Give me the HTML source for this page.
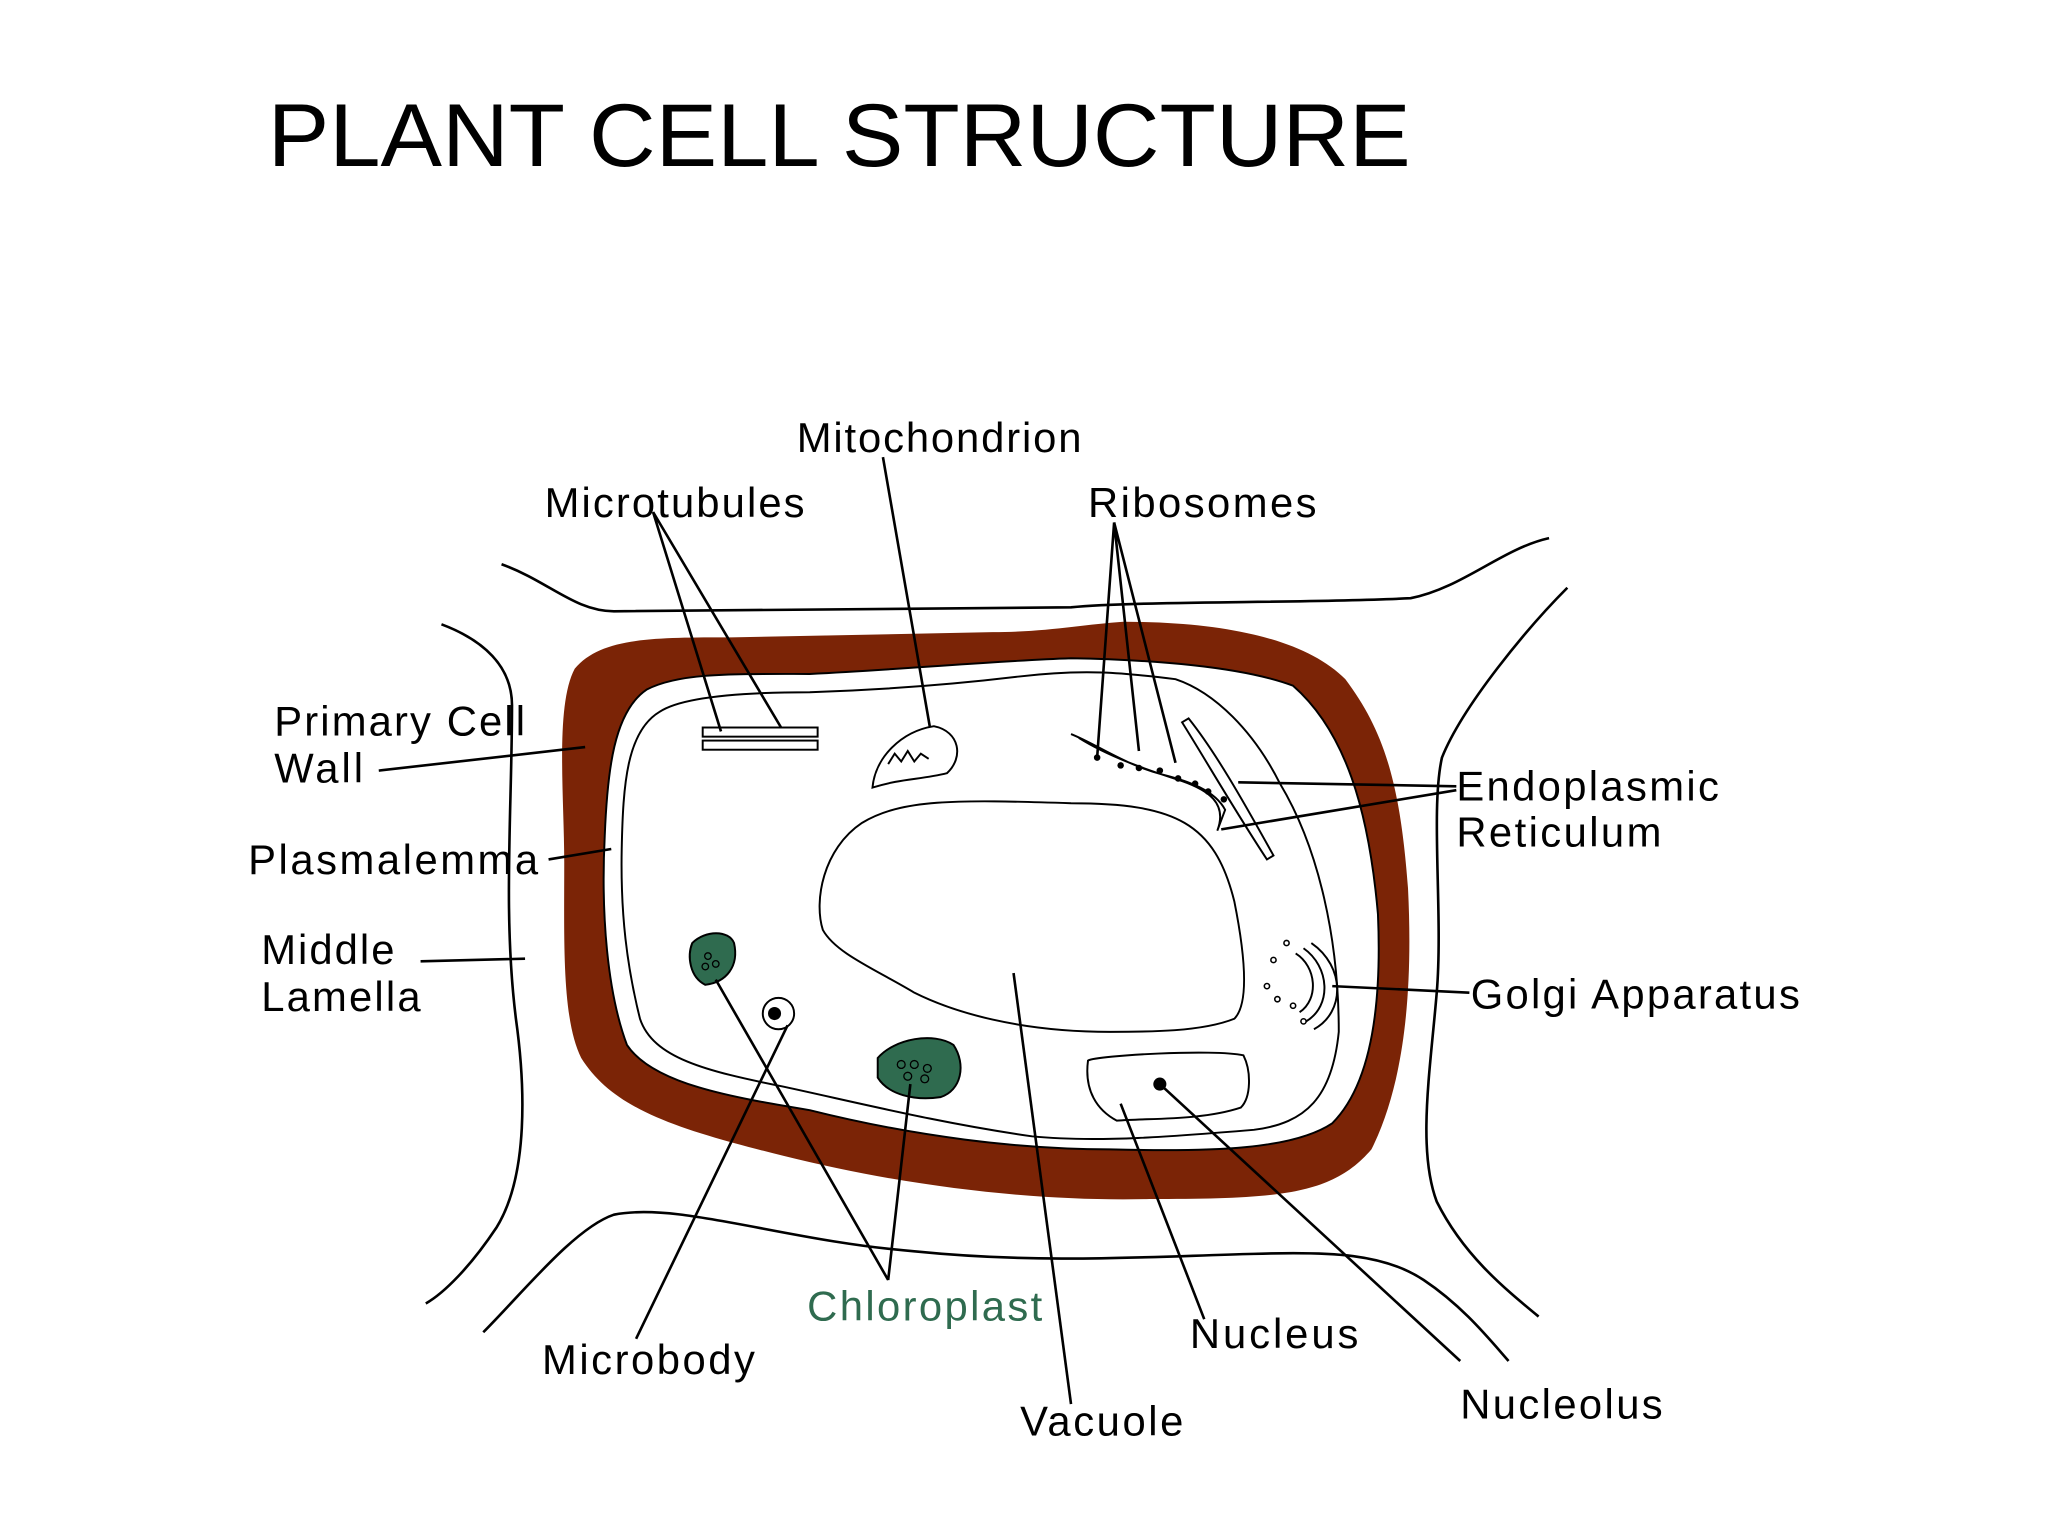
<!DOCTYPE html>
<html><head><style>html,body{margin:0;padding:0;background:#fff;width:2048px;height:1536px;overflow:hidden}svg{display:block}</style></head><body>
<svg width="2048" height="1536" viewBox="0 0 1568 1176" xmlns="http://www.w3.org/2000/svg" font-family="Liberation Sans, Arial, sans-serif">
<rect width="1568" height="1176" fill="#fff"/>
<text x="205" y="127" font-size="68" fill="#000" textLength="875" lengthAdjust="spacingAndGlyphs">PLANT CELL STRUCTURE</text>
<g fill="none" stroke="#000" stroke-width="2">
<path d="M384,432 C420,445 440,468 470,468 L820,465 C870,460 1000,462 1080,458 C1120,450 1150,420 1186,412"/>
<path d="M338,478 C370,490 392,510 392,540 C392,620 385,700 395,780 C402,830 405,900 380,940 C360,970 340,990 326,998"/>
<path d="M1200,450 C1170,480 1120,540 1104,580 C1095,620 1105,700 1100,760 C1095,820 1085,880 1100,920 C1120,960 1150,985 1178,1008"/>
<path d="M370,1020 C400,990 440,940 470,930 C520,920 600,950 700,958 C800,968 880,962 960,960 C1020,958 1060,960 1090,980 C1120,1000 1140,1025 1155,1042"/>
</g>
<path fill="#7b2406" d="M440,512 C460,488 500,488 560,488 L760,484 C800,484 830,478 860,476 C940,476 1000,490 1030,520 C1060,560 1072,600 1078,680 C1082,760 1075,830 1050,880 C1020,915 980,918 880,918 C800,920 700,910 600,885 C520,865 470,850 445,810 C430,780 432,720 432,660 C432,610 425,540 440,512 Z"/>
<path fill="#fff" stroke="#000" stroke-width="1.5" d="M495,528 C520,515 560,516 620,516 C700,512 760,506 820,504 C880,505 950,510 990,525 C1030,560 1048,620 1055,700 C1058,770 1050,830 1020,860 C990,880 930,882 850,880 C780,880 700,870 620,850 C560,840 500,830 480,800 C465,760 460,700 463,640 C465,590 470,545 495,528 Z"/>
<path fill="none" stroke="#000" stroke-width="1.5" d="M505,545 C520,535 560,530 620,530 C680,528 730,524 780,518 C830,512 860,515 900,520 C930,530 960,560 980,600 C1010,650 1025,720 1025,790 C1020,840 1000,860 960,865 C900,870 840,875 790,870 C720,860 660,845 600,832 C540,820 500,810 490,780 C480,740 475,700 476,650 C477,600 480,560 505,545 Z"/>
<path fill="none" stroke="#000" stroke-width="1.5" d="M660,630 C690,612 730,612 820,615 C900,615 930,630 945,690 C955,740 955,770 945,780 C920,790 880,790 850,790 C780,790 730,775 700,760 C670,742 640,730 630,712 C623,690 630,650 660,630 Z"/>
<g fill="none" stroke="#000" stroke-width="1.5">
<rect x="538" y="557" width="88" height="7"/><rect x="538" y="567" width="88" height="7"/>
<path d="M668,603 C670,580 690,560 715,556 C735,560 738,580 725,592 C705,597 690,596 668,603 Z"/>
<path d="M680,585 l5,-8 l5,6 l5,-8 l5,8 l5,-6 l6,4"/>
<path d="M820,562 C840,570 860,585 890,593 C910,598 930,605 938,620 L932,636 C940,615 925,605 905,598 C880,590 850,580 826,565"/>
<path d="M905,553 L910,550 C930,575 950,610 975,655 L970,658 C945,620 925,585 905,553 Z"/>
<path d="M833,812 C840,808 930,803 952,808 C958,820 958,840 950,848 C920,858 880,856 855,858 C840,850 830,835 833,812 Z"/>
<path d="M992,730 C1008,740 1010,765 995,775 M998,726 C1018,740 1020,770 1000,782 M1004,722 C1030,740 1030,775 1006,788"/>
<circle cx="596" cy="776" r="12"/>
</g>
<circle cx="593" cy="776" r="5" fill="#000"/>
<g fill="#000"><circle cx="840" cy="580" r="2.5"/><circle cx="858" cy="586" r="2.5"/><circle cx="872" cy="588" r="2.5"/><circle cx="888" cy="590" r="2.5"/><circle cx="902" cy="596" r="2.5"/><circle cx="915" cy="600" r="2.5"/><circle cx="925" cy="606" r="2.5"/><circle cx="937" cy="612" r="2.5"/><circle cx="888" cy="830" r="5"/></g>
<g fill="none" stroke="#000" stroke-width="1.2"><circle cx="975" cy="735" r="2"/><circle cx="985" cy="722" r="2"/><circle cx="970" cy="755" r="2"/><circle cx="990" cy="770" r="2"/><circle cx="998" cy="782" r="2"/><circle cx="978" cy="765" r="2"/></g>
<path fill="#2f6b4f" stroke="#000" stroke-width="1.5" d="M530,722 C540,712 558,712 562,722 C566,740 556,752 540,754 C528,748 526,732 530,722 Z"/>
<path fill="#2f6b4f" stroke="#000" stroke-width="1.5" d="M672,810 C685,795 715,790 730,800 C740,815 736,835 720,840 C700,843 680,838 672,825 Z"/>
<g fill="none" stroke="#000" stroke-width="1"><circle cx="690" cy="815" r="3"/><circle cx="700" cy="815" r="3"/><circle cx="710" cy="818" r="3"/><circle cx="695" cy="824" r="3"/><circle cx="708" cy="826" r="3"/><circle cx="542" cy="732" r="2.5"/><circle cx="548" cy="738" r="2.5"/><circle cx="540" cy="740" r="2.5"/></g>
<g fill="none" stroke="#000" stroke-width="2">
<path d="M500,392 L552,560 M500,392 L598,557"/>
<path d="M676,350 L712,557"/>
<path d="M853,400 L840,580 M853,400 L872,575 M853,400 L900,584"/>
<path d="M290,590 L448,572"/>
<path d="M420,658 L468,650"/>
<path d="M322,736 L402,734"/>
<path d="M1115,602 L948,599 M1115,605 L935,635"/>
<path d="M1020,755 L1125,760"/>
<path d="M487,1025 L603,785"/>
<path d="M680,980 L548,750 M680,980 L697,830"/>
<path d="M776,745 L820,1075"/>
<path d="M858,845 L922,1010"/>
<path d="M888,830 L1118,1042"/>
</g>
<g font-size="32" fill="#000" lengthAdjust="spacingAndGlyphs">
<text x="610" y="346" textLength="218">Mitochondrion</text>
<text x="417" y="396" textLength="199">Microtubules</text>
<text x="833" y="396" textLength="175">Ribosomes</text>
<text x="210" y="563" textLength="192">Primary Cell</text>
<text x="210" y="599" textLength="68">Wall</text>
<text x="190" y="669" textLength="222">Plasmalemma</text>
<text x="200" y="738" textLength="102">Middle</text>
<text x="200" y="774" textLength="122">Lamella</text>
<text x="1115" y="613" textLength="201">Endoplasmic</text>
<text x="1115" y="648" textLength="157">Reticulum</text>
<text x="1126" y="772" textLength="252">Golgi Apparatus</text>
<text x="618" y="1011" fill="#2f6b4f" textLength="180">Chloroplast</text>
<text x="415" y="1052" textLength="163">Microbody</text>
<text x="911" y="1032" textLength="129">Nucleus</text>
<text x="781" y="1099" textLength="125">Vacuole</text>
<text x="1118" y="1086" textLength="155">Nucleolus</text>
</g>
</svg>
</body></html>
